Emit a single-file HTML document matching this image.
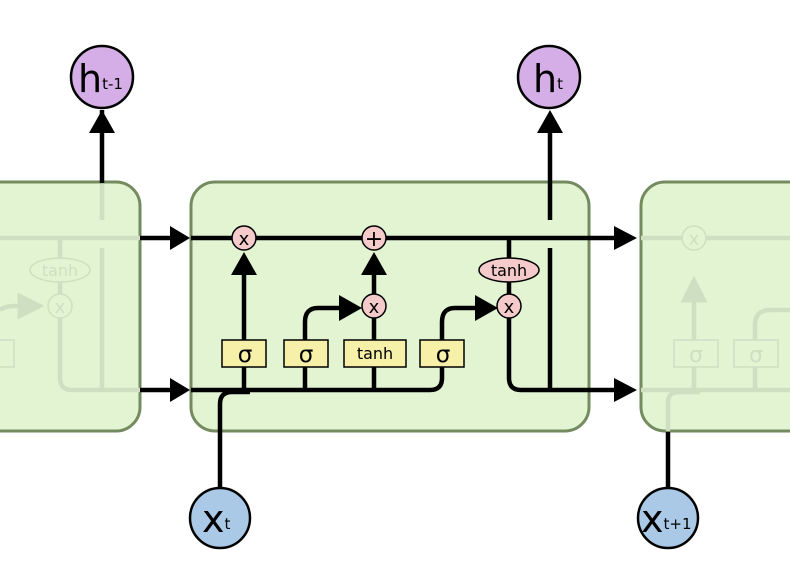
<!DOCTYPE html>
<html><head><style>html,body{margin:0;padding:0;background:#fff}svg{display:block}</style></head><body>
<svg width="790" height="576" viewBox="0 0 790 576" xmlns="http://www.w3.org/2000/svg" font-family="'DejaVu Sans','Liberation Sans',sans-serif">
<defs>
<marker id="f" markerWidth="6" markerHeight="6" refX="5" refY="3" orient="auto" markerUnits="strokeWidth"><path d="M0,0 L6,3 L0,6 z" fill="#cfdfc1"/></marker>
</defs>
<!-- left box -->
<rect x="-40" y="182" width="180" height="249" rx="24" fill="#e2f4d2" stroke="#748b5f" stroke-width="3"/>
<g stroke="#cfdfc1" stroke-width="4.5" fill="none">
<line x1="0" y1="238" x2="140" y2="238"/>
<path d="M60,238 V320 M60,318 V378 Q60,390 72,390 H140"/>
<line x1="102" y1="184" x2="102" y2="220"/>
<line x1="102" y1="248" x2="102" y2="390"/>
<path d="M0,310 Q5,306 15,306 H40" marker-end="url(#f)"/>
<rect x="-30" y="340" width="44" height="27" stroke-width="1.5"/>
</g>
<ellipse cx="60" cy="270" rx="30" ry="12" fill="#e2f4d2" stroke="#cfdfc1" stroke-width="1.5"/>
<text x="60" y="276" font-size="16" text-anchor="middle" fill="#cfdfc1">tanh</text>
<circle cx="60" cy="306" r="12" fill="#e2f4d2" stroke="#cfdfc1" stroke-width="1.5"/>
<text x="60" y="313" font-size="18" text-anchor="middle" fill="#cfdfc1">x</text>
<line x1="102" y1="110" x2="102" y2="183" stroke="#000" stroke-width="4.5"/>
<path d="M89,133 L102,110 L115,133 z" fill="#000"/>

<!-- right box -->
<rect x="641" y="182" width="200" height="249" rx="24" fill="#e2f4d2" stroke="#748b5f" stroke-width="3"/>
<g stroke="#cfdfc1" stroke-width="4.5" fill="none">
<line x1="641" y1="238" x2="790" y2="238"/>
<line x1="641" y1="390" x2="790" y2="390"/>
<path d="M694,340 V280" marker-end="url(#f)"/>
<line x1="694" y1="367" x2="694" y2="390"/>
<path d="M755,390 V325 Q755,310 770,310 H790"/>
<path d="M668,431 V402 Q668,392 680,392 H700"/>
<rect x="674" y="340" width="44" height="27" stroke-width="1.5" fill="#e2f4d2"/>
<rect x="734" y="340" width="44" height="27" stroke-width="1.5" fill="#e2f4d2"/>
</g>
<circle cx="694" cy="238" r="12" fill="#e2f4d2" stroke="#cfdfc1" stroke-width="1.5"/>
<text x="694" y="245" font-size="18" text-anchor="middle" fill="#cfdfc1">x</text>
<text x="696" y="362" font-size="22" text-anchor="middle" fill="#cfdfc1">σ</text>
<text x="756" y="362" font-size="22" text-anchor="middle" fill="#cfdfc1">σ</text>
<line x1="668" y1="432" x2="668" y2="487" stroke="#000" stroke-width="4.5"/>

<!-- center box -->
<rect x="191" y="182" width="398" height="249" rx="24" fill="#e2f4d2" stroke="#748b5f" stroke-width="3"/>
<g stroke="#000" stroke-width="4.5" fill="none">
<line x1="140" y1="238" x2="172" y2="238"/>
<line x1="140" y1="390" x2="172" y2="390"/>
<line x1="191" y1="238" x2="618" y2="238"/>
<path d="M191,390 H430 Q442,390 442,378 V367"/>
<path d="M220,487 V404 Q220,392 232,392 H250"/>
<line x1="244" y1="340" x2="244" y2="272"/>
<line x1="244" y1="367" x2="244" y2="390"/>
<path d="M305,340 V322 Q305,308 318,308 H342"/>
<line x1="305" y1="367" x2="305" y2="390"/>
<line x1="374" y1="340" x2="374" y2="318"/>
<line x1="374" y1="367" x2="374" y2="390"/>
<line x1="374" y1="294" x2="374" y2="272"/>
<path d="M442,340 V322 Q442,308 455,308 H478"/>
<line x1="509" y1="238" x2="509" y2="306"/>
<path d="M509,318 V378 Q509,390 521,390 H618"/>
<line x1="550" y1="388" x2="550" y2="248"/>
<line x1="550" y1="220" x2="550" y2="130"/>
</g>
<g fill="#000">
<path d="M170,226 L190,238 L170,250 z"/>
<path d="M170,378 L190,390 L170,402 z"/>
<path d="M614,226 L637,238 L614,250 z"/>
<path d="M614,378 L637,390 L614,402 z"/>
<path d="M231,275 L244,252 L257,275 z"/>
<path d="M361,275 L374,252 L387,275 z"/>
<path d="M339,295 L362,308 L339,321 z"/>
<path d="M475,295 L498,308 L475,321 z"/>
<path d="M537,133 L550,110 L563,133 z"/>
</g>
<g stroke="#000" stroke-width="1.5" fill="#f4caca">
<circle cx="244" cy="238" r="12"/>
<circle cx="374" cy="238" r="12"/>
<circle cx="374" cy="306" r="12"/>
<circle cx="509" cy="306" r="12"/>
<ellipse cx="509" cy="270" rx="30" ry="12"/>
</g>
<g font-size="18" text-anchor="middle">
<text x="244" y="245">x</text>
<text x="374" y="246" font-size="22">+</text>
<text x="374" y="313">x</text>
<text x="509" y="313">x</text>
<text x="509" y="276" font-size="16">tanh</text>
</g>
<g stroke="#000" stroke-width="1.5" fill="#f6f0a8">
<rect x="222" y="340" width="44" height="27"/>
<rect x="284" y="340" width="44" height="27"/>
<rect x="344" y="340" width="62" height="27"/>
<rect x="420" y="340" width="44" height="27"/>
</g>
<g font-size="23" text-anchor="middle">
<text x="245" y="362">σ</text>
<text x="306" y="362">σ</text>
<text x="375" y="359" font-size="16">tanh</text>
<text x="443" y="362">σ</text>
</g>

<!-- top/bottom nodes -->
<g stroke="#000" stroke-width="2.5">
<circle cx="102" cy="77" r="31" fill="#d5aee8"/>
<circle cx="549" cy="77" r="31" fill="#d5aee8"/>
<circle cx="220" cy="518" r="30" fill="#a9c9e6"/>
<circle cx="668" cy="518" r="30" fill="#a9c9e6"/>
</g>
<text x="78" y="92" font-size="38">h<tspan font-size="15" dy="-3">t-1</tspan></text>
<text x="533" y="92" font-size="38">h<tspan font-size="15" dy="-3">t</tspan></text>
<text x="202" y="532" font-size="38">x<tspan font-size="15" dy="-3">t</tspan></text>
<text x="641" y="532" font-size="38">x<tspan font-size="15" dy="-3">t+1</tspan></text>
</svg>
</body></html>
